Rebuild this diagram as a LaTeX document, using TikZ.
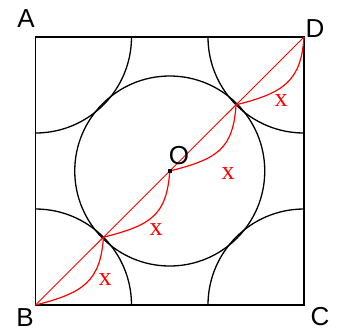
\documentclass[tikz,border=0pt]{standalone}
\usepackage{fontspec}
\setmainfont{Liberation Sans}
\newfontfamily\serifx{Liberation Serif}
\usetikzlibrary{calc}
\begin{document}
\begin{tikzpicture}[x=1pt,y=-1pt,
  sq/.style={line width=1.6pt,black},
  blk/.style={line width=1.3pt,black},
  redd/.style={line width=0.9pt,red},
  redc/.style={line width=1.2pt,red},
  corner/.style={font=\fontsize{26}{26}\selectfont,inner sep=0pt},
  xlab/.style={font=\serifx\fontsize{26}{26}\selectfont,text=red,inner sep=0pt},
  dotO/.style={fill=black,minimum size=4pt,inner sep=0pt}]
\useasboundingbox (0,0) rectangle (340,333);
\coordinate (A) at (35.5,37);
\coordinate (B) at (35.5,305);
\coordinate (C) at (304,305);
\coordinate (D) at (304,37);
\coordinate (O) at (169.75,171);
\coordinate (P1) at ($(B)!96pt!(D)$);
\coordinate (P2) at ($(D)!96pt!(B)$);
% corner arcs
\begin{scope}
  \clip (A) rectangle (C);
  \draw[blk] (A) circle[radius=96];
  \draw[blk] (B) circle[radius=96];
  \draw[blk] (C) circle[radius=96];
  \draw[blk] (D) circle[radius=96];
\end{scope}
\draw[blk] (O) circle[radius=95];
\draw[sq] (A) rectangle (C);
% red diagonal and curves
\draw[redd] (B) -- (D);
\draw[redc] (B) .. controls +(48,-12) and +(-3,44) .. (P1)
  .. controls +(48,-12) and +(-3,44) .. (O)
  .. controls +(48,-12) and +(-3,44) .. (P2)
  .. controls +(48,-12) and +(-3,44) .. (D);
\node[dotO] (dot) at (O) {};
% labels
\node[corner] (lA) at (26,19) {A};
\node[corner] (lB) at (25,318) {B};
\node[corner] (lC) at (320,317) {C};
\node[corner] (lD) at (315,29) {D};
\node[corner] (lO) at (179,156) {O};
\node[xlab] (x1) at (105,280) {x};
\node[xlab] (x2) at (156,230) {x};
\node[xlab] (x3) at (228,174) {x};
\node[xlab] (x4) at (281,101) {x};
\end{tikzpicture}
\end{document}
